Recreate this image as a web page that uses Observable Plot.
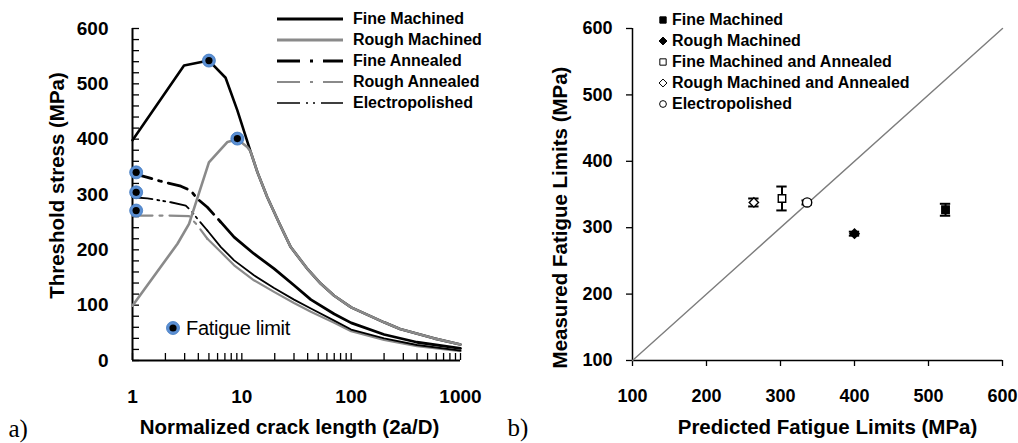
<!DOCTYPE html>
<html>
<head>
<meta charset="utf-8">
<script src="https://cdn.jsdelivr.net/npm/d3@7"></script>
<script src="https://cdn.jsdelivr.net/npm/@observablehq/plot@0.6"></script>
<style>
  html, body { margin: 0; padding: 0; background: #fff; }
  #wrap { position: relative; width: 1018px; height: 443px; overflow: hidden; background: #fff;
          font-family: "Liberation Sans", Arial, sans-serif; }
  .panel { position: absolute; top: 0; }
  .leg { position: absolute; white-space: nowrap; }
</style>
</head>
<body>
<div id="wrap"></div>
<script>
// ---------------- Panel a data: normalized crack length (2a/D) vs threshold stress (MPa)
const fineMachinedX   = [1, 2.96, 5.0, 7.1, 9.1, 12, 13.9, 17.1, 22, 28, 40, 52.6, 70, 100, 200, 280, 571, 1000];
const fineMachinedY   = [398, 533, 542, 511, 452, 378, 340, 295, 248, 205, 165, 139, 117, 96, 69, 57, 40, 29];
const roughMachinedX  = [1, 2.58, 3.29, 5.0, 7.4, 9.1, 11.2, 12, 13.9, 17.1, 22, 28, 40, 52.6, 70, 100, 200, 280, 571, 1000];
const roughMachinedY  = [99, 211, 247, 358, 395, 400, 386, 378, 340, 295, 248, 205, 165, 139, 117, 96, 69, 57, 40, 29];
const fineAnnealedX   = [1, 1.37, 1.81, 2.77, 3.41, 3.93, 4.84, 6.43, 8.5, 12.9, 19.7, 30, 42.8, 70, 100, 200, 400, 1000];
const fineAnnealedY   = [338, 331, 324, 315, 307, 292, 277, 250, 223, 193, 166, 136, 110, 84, 68, 47, 33, 22];
const roughAnnealedX  = [1, 2.0, 3.29, 3.93, 4.84, 6.43, 8.5, 12.9, 19.7, 30, 42.8, 70, 100, 200, 400, 1000];
const roughAnnealedY  = [262, 262, 261, 244, 220, 196, 172, 145, 124, 104, 88, 68, 53, 37, 26, 17];
const electroX        = [1, 1.37, 2.24, 3.07, 3.53, 3.93, 4.84, 6.43, 8.5, 12.9, 19.7, 30, 42.8, 70, 100, 200, 400, 1000];
const electroY        = [295, 293, 286, 280, 268, 256, 235, 205, 181, 154, 131, 110, 94, 72, 56, 40, 28, 18];
// fatigue limit points (panel a)
const fatigueX = [5.0, 9.1, 1.08, 1.08, 1.08];
const fatigueY = [542, 401, 340, 304, 271];
const seriesNamesA = ["Fine Machined", "Rough Machined", "Fine Annealed", "Rough Annealed", "Electropolished"];
const xTickLabelsA = [1, 10, 100, 1000];
const xMinorTicksA = [1,2,3,4,5,6,7,8,9,10,20,30,40,50,60,70,80,90,100,200,300,400,500,600,700,800,900,1000];
const yTickLabelsA = [0, 100, 200, 300, 400, 500, 600];
const yMinorTicksA = [0,20,40,60,80,100,120,140,160,180,200,220,240,260,280,300,320,340,360,380,400,420,440,460,480,500,520,540,560,580,600];

// ---------------- Panel b data: predicted vs measured fatigue limits (MPa)
const seriesNamesB = ["Fine Machined", "Rough Machined", "Fine Machined and Annealed", "Rough Machined and Annealed", "Electropolished"];
const predicted = [523, 400, 302, 264, 336];
const measured  = [327, 291, 344, 338, 338];
const errorBar  = [9, 3, 18, 6, 3];
const diagonalX = [100, 600];
const diagonalY = [100, 600];
const ticksB    = [100, 200, 300, 400, 500, 600];

// ---------------- styles
const GRAY = "#8a8a8a";
const styleA = [
  {stroke: "#000", width: 2.6, dash: null, split: null},
  {stroke: GRAY, width: 2.6, dash: null, split: null},
  {stroke: "#000", width: 2.8, dash: "20,7,3,7", split: 6.43},
  {stroke: GRAY, width: 2.2, dash: "20,7,3,7", split: 4.84},
  {stroke: "#000", width: 1.8, dash: "20,5,2,4,2,5", split: 4.84}
];
const symbolsB = [
  {symbol: "square", fill: "#000", r: 4.2},
  {symbol: "diamond2", fill: "#000", r: 4.2},
  {symbol: "square", fill: "#fff", r: 4.2},
  {symbol: "diamond2", fill: "#fff", r: 4.2},
  {symbol: "circle", fill: "#fff", r: 4.6}
];
const FONT = "Liberation Sans, Arial, sans-serif";
const SERIF = "Liberation Serif, Times New Roman, serif";

const seriesA = [
  d3.zip(fineMachinedX, fineMachinedY),
  d3.zip(roughMachinedX, roughMachinedY),
  d3.zip(fineAnnealedX, fineAnnealedY),
  d3.zip(roughAnnealedX, roughAnnealedY),
  d3.zip(electroX, electroY)
].map(pts => pts.map(([x, y]) => ({x, y})));
const fatigue = d3.zip(fatigueX, fatigueY).map(([x, y]) => ({x, y}));

const lineMarks = [];
const order = [3, 4, 2, 0, 1];
for (const i of order) {
  const s = styleA[i], data = seriesA[i];
  if (s.split == null) {
    lineMarks.push(Plot.line(data, {x: "x", y: "y", stroke: s.stroke, strokeWidth: s.width, strokeLinejoin: "round"}));
  } else {
    lineMarks.push(Plot.line(data.filter(d => d.x <= s.split), {x: "x", y: "y", stroke: s.stroke, strokeWidth: s.width, strokeDasharray: s.dash}));
    lineMarks.push(Plot.line(data.filter(d => d.x >= s.split), {x: "x", y: "y", stroke: s.stroke, strokeWidth: s.width, strokeLinejoin: "round"}));
  }
}

const plotA = Plot.plot({
  width: 500, height: 443,
  marginLeft: 132, marginRight: 40, marginTop: 28, marginBottom: 83,
  x: {type: "log", domain: [1, 1000]},
  y: {domain: [0, 600]},
  style: {fontFamily: FONT, fontSize: "19px", fontWeight: "bold", background: "transparent", overflow: "visible", color: "#000"},
  marks: [
    Plot.axisY(yMinorTicksA, {tickSize: 7, dx: 7, tickFormat: () => "", label: null, strokeWidth: 1.3}),
    Plot.text(yTickLabelsA, {y: d => d, text: d => String(d), frameAnchor: "left", textAnchor: "end", dx: -24, fontSize: 19, fontWeight: "bold"}),
    Plot.axisX(xMinorTicksA, {tickSize: 7, dy: -7, tickFormat: () => "", label: null, strokeWidth: 1.3}),
    Plot.axisX(xTickLabelsA, {tickSize: 0, tickPadding: 29, tickFormat: d => String(d), label: null}),
    Plot.ruleX([1], {stroke: "#000", strokeWidth: 2}),
    Plot.ruleY([0], {stroke: "#000", strokeWidth: 2}),
    ...lineMarks,
    Plot.dot(fatigue, {x: "x", y: "y", r: 6.5, fill: "#5b8fd3", stroke: "#3f78c0", strokeWidth: 0.8}),
    Plot.dot(fatigue, {x: "x", y: "y", r: 3.6, fill: "#000"}),
    Plot.text(["Threshold stress (MPa)"], {text: d => d, frameAnchor: "left", textAnchor: "middle", lineAnchor: "middle", rotate: -90, dx: -75, dy: -9, fontSize: 20.5, fontWeight: "bold"}),
    Plot.text(["Normalized crack length (2a/D)"], {text: d => d, frameAnchor: "bottom", textAnchor: "middle", lineAnchor: "middle", dx: -7, dy: 67, fontSize: 20.5, fontWeight: "bold"}),
    Plot.text(["a)"], {text: d => d, frameAnchor: "bottom-left", textAnchor: "start", lineAnchor: "middle", dx: -124, dy: 68, fontSize: 25, fontWeight: "normal", fontFamily: SERIF})
  ]
});

const pointsB = seriesNamesB.map((name, i) => ({name, pred: predicted[i], meas: measured[i], err: errorBar[i]}));
const cap = 7;
const plotB = Plot.plot({
  width: 518, height: 443,
  marginLeft: 132, marginRight: 16, marginTop: 28, marginBottom: 83,
  x: {domain: [100, 600]},
  y: {domain: [100, 600]},
  style: {fontFamily: FONT, fontSize: "18px", fontWeight: "bold", background: "transparent", overflow: "visible", color: "#000"},
  marks: [
    Plot.axisY(ticksB, {tickSize: 6, tickPadding: 14, tickFormat: d => String(d), label: null, strokeWidth: 1.3}),
    Plot.axisX(ticksB, {tickSize: 6, tickPadding: 23, tickFormat: d => String(d), label: null, strokeWidth: 1.3}),
    Plot.ruleX([100], {stroke: "#000", strokeWidth: 1.5}),
    Plot.ruleY([100], {stroke: "#000", strokeWidth: 1.5}),
    Plot.line(d3.zip(diagonalX, diagonalY), {x: d => d[0], y: d => d[1], stroke: "#7d7d7d", strokeWidth: 1.4}),
    Plot.ruleX(pointsB, {x: "pred", y1: d => d.meas - d.err, y2: d => d.meas + d.err, stroke: "#000", strokeWidth: 2}),
    Plot.ruleY(pointsB, {y: d => d.meas + d.err, x1: d => d.pred - cap, x2: d => d.pred + cap, stroke: "#000", strokeWidth: 2}),
    Plot.ruleY(pointsB, {y: d => d.meas - d.err, x1: d => d.pred - cap, x2: d => d.pred + cap, stroke: "#000", strokeWidth: 2}),
    ...pointsB.map((p, i) => Plot.dot([p], {x: "pred", y: "meas", symbol: symbolsB[i].symbol, r: symbolsB[i].r,
      fill: symbolsB[i].fill, stroke: "#000", strokeWidth: 1.4})),
    Plot.text(["Measured Fatigue Limits (MPa)"], {text: d => d, frameAnchor: "left", textAnchor: "middle", lineAnchor: "middle", rotate: -90, dx: -72, dy: 23, fontSize: 20.5, fontWeight: "bold"}),
    Plot.text(["Predicted Fatigue Limits (MPa)"], {text: d => d, frameAnchor: "bottom", textAnchor: "middle", lineAnchor: "middle", dx: 10, dy: 67, fontSize: 20.5, fontWeight: "bold"}),
    Plot.text(["b)"], {text: d => d, frameAnchor: "bottom-left", textAnchor: "start", lineAnchor: "middle", dx: -125, dy: 67, fontSize: 25, fontWeight: "normal", fontFamily: SERIF})
  ]
});

const wrap = document.getElementById("wrap");
const pa = document.createElement("div"); pa.className = "panel"; pa.style.left = "0px"; pa.appendChild(plotA); wrap.appendChild(pa);
const pb = document.createElement("div"); pb.className = "panel"; pb.style.left = "500px"; pb.appendChild(plotB); wrap.appendChild(pb);

// ---------------- legend a (line swatches)
const NS = "http://www.w3.org/2000/svg";
seriesNamesA.forEach((name, i) => {
  const cy = 19 + i * 21;
  const s = styleA[i];
  const sw = document.createElementNS(NS, "svg");
  sw.setAttribute("width", 68); sw.setAttribute("height", 10);
  sw.style.position = "absolute"; sw.style.left = "277px"; sw.style.top = (cy - 5) + "px";
  const ln = document.createElementNS(NS, "line");
  ln.setAttribute("x1", 0); ln.setAttribute("x2", 66); ln.setAttribute("y1", 5); ln.setAttribute("y2", 5);
  ln.setAttribute("stroke", s.stroke);
  ln.setAttribute("stroke-width", i === 4 ? 1.6 : (i === 3 ? 2 : 3));
  if (s.dash) ln.setAttribute("stroke-dasharray", i === 4 ? "23,6,2,5,2,6" : "23,10,3,10");
  sw.appendChild(ln);
  wrap.appendChild(sw);
  const t = document.createElement("div");
  t.className = "leg"; t.textContent = name;
  t.style.left = "353px"; t.style.top = (cy - 10) + "px"; t.style.lineHeight = "20px";
  t.style.fontSize = "16px"; t.style.fontWeight = "bold";
  wrap.appendChild(t);
});
// fatigue limit legend entry
(function () {
  const sw = document.createElementNS(NS, "svg");
  sw.setAttribute("width", 16); sw.setAttribute("height", 16);
  sw.style.position = "absolute"; sw.style.left = "165px"; sw.style.top = "320px";
  const c1 = document.createElementNS(NS, "circle");
  c1.setAttribute("cx", 8); c1.setAttribute("cy", 8); c1.setAttribute("r", 6.5);
  c1.setAttribute("fill", "#5b8fd3"); c1.setAttribute("stroke", "#3f78c0"); c1.setAttribute("stroke-width", 0.8);
  const c2 = document.createElementNS(NS, "circle");
  c2.setAttribute("cx", 8); c2.setAttribute("cy", 8); c2.setAttribute("r", 3.6); c2.setAttribute("fill", "#000");
  sw.appendChild(c1); sw.appendChild(c2); wrap.appendChild(sw);
  const t = document.createElement("div");
  t.className = "leg"; t.textContent = "Fatigue limit";
  t.style.left = "186px"; t.style.top = "316px"; t.style.lineHeight = "24px";
  t.style.fontSize = "20px"; t.style.fontWeight = "normal"; t.style.letterSpacing = "-0.3px";
  wrap.appendChild(t);
})();

// ---------------- legend b (symbols)
seriesNamesB.forEach((name, i) => {
  const cy = 20 + i * 21;
  const sym = symbolsB[i];
  const sw = document.createElementNS(NS, "svg");
  sw.setAttribute("width", 12); sw.setAttribute("height", 12);
  sw.style.position = "absolute"; sw.style.left = "657px"; sw.style.top = (cy - 6) + "px";
  const type = sym.symbol === "square" ? d3.symbolSquare : sym.symbol === "diamond2" ? d3.symbolDiamond2 : d3.symbolCircle;
  const p = document.createElementNS(NS, "path");
  p.setAttribute("d", d3.symbol(type, sym.symbol === "circle" ? 36 : 40)());
  p.setAttribute("transform", "translate(6,6)");
  p.setAttribute("fill", sym.fill); p.setAttribute("stroke", "#000"); p.setAttribute("stroke-width", 1);
  sw.appendChild(p); wrap.appendChild(sw);
  const t = document.createElement("div");
  t.className = "leg"; t.textContent = name;
  t.style.left = "672px"; t.style.top = (cy - 10) + "px"; t.style.lineHeight = "20px";
  t.style.fontSize = "16px"; t.style.fontWeight = "bold";
  wrap.appendChild(t);
});
</script>
</body>
</html>
